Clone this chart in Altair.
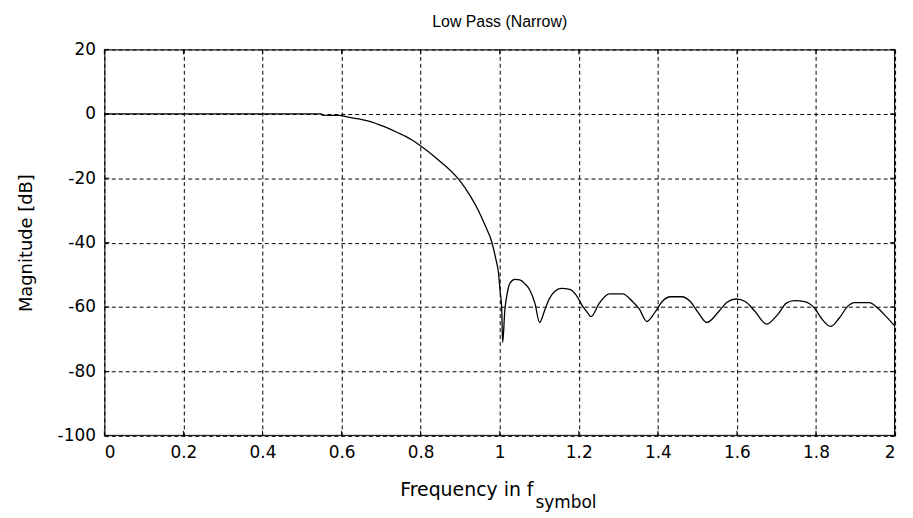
import altair as alt
import pandas as pd

# Frequency (in units of f_symbol) and magnitude (dB)
freq = [0, 0.549, 0.55, 0.595, 0.624, 0.666, 0.708, 0.741, 0.775, 0.796,
        0.842, 0.896, 0.925, 0.946, 0.963, 0.980, 0.990, 0.997, 1.001, 1.005,
        1.0075, 1.013, 1.019, 1.026, 1.038, 1.051, 1.064, 1.076, 1.089, 1.101,
        1.114, 1.126, 1.139, 1.156, 1.177, 1.193, 1.210, 1.223, 1.231, 1.252,
        1.277, 1.311, 1.336, 1.353, 1.372, 1.394, 1.411, 1.432, 1.461, 1.482,
        1.503, 1.524, 1.554, 1.575, 1.598, 1.621, 1.646, 1.675, 1.704, 1.725,
        1.746, 1.771, 1.796, 1.813, 1.837, 1.859, 1.880, 1.897, 1.935, 1.956,
        1.977, 2.0]
mag = [0, 0, -0.4, -0.5, -1.2, -2.2, -4.0, -5.8, -7.9, -9.6,
       -14.0, -20.3, -25.4, -30.0, -34.6, -39.8, -45.0, -49.5, -55.0, -60.3,
       -71.0, -60.9, -55.7, -52.6, -51.4, -51.6, -52.8, -54.7, -58.8, -64.8,
       -60.9, -57.3, -55.2, -54.2, -54.5, -56.2, -59.8, -61.9, -63.0, -58.8,
       -55.9, -55.9, -58.3, -60.6, -64.5, -61.4, -58.3, -56.8, -56.8, -58.3,
       -61.9, -64.8, -61.4, -58.5, -57.5, -58.3, -61.4, -65.3, -62.2, -58.8,
       -58.0, -58.3, -60.3, -63.4, -66.0, -63.4, -59.8, -58.6, -58.6, -60.3,
       -62.9, -66.0]

x_ticks = [0, 0.2, 0.4, 0.6, 0.8, 1, 1.2, 1.4, 1.6, 1.8, 2]
y_ticks = [-100, -80, -60, -40, -20, 0, 20]

title_text = "Low Pass (Narrow)"
x_title_main = "Frequency in f"
x_title_sub = "symbol"
y_title = "Magnitude [dB]"

W, H = 796, 389
FONT = "DejaVu Sans"

df = pd.DataFrame({"f": freq, "dB": mag})
xt = pd.DataFrame({"v": x_ticks})
yt = pd.DataFrame({"v": y_ticks})
one = pd.DataFrame({"k": [0]})

xscale = alt.Scale(domain=[0, 2], nice=False, zero=False)
yscale = alt.Scale(domain=[-100, 20], nice=False, zero=False)

xaxis = alt.Axis(values=x_ticks, labelExpr="toString(datum.value)", title=None, grid=True,
                 gridDash=[4, 3], gridColor="black", gridOpacity=1,
                 ticks=False, domain=False, labelPadding=9,
                 labelFontSize=17, labelColor="black", labelFont=FONT)
yaxis = alt.Axis(values=y_ticks, labelExpr="toString(datum.value)", title=y_title, grid=True,
                 gridDash=[4, 3], gridColor="black", gridOpacity=1,
                 ticks=False, domain=False, labelPadding=9,
                 labelFontSize=17, labelColor="black", labelFont=FONT,
                 titleFontSize=18, titleFont=FONT, titleColor="black",
                 titleFontWeight="normal", titlePadding=22)

line = alt.Chart(df).mark_line(color="black", strokeWidth=1.3, interpolate="monotone").encode(
    x=alt.X("f:Q", scale=xscale, axis=xaxis),
    y=alt.Y("dB:Q", scale=yscale, axis=yaxis),
)

tick_bottom = alt.Chart(xt).mark_rule(color="black").encode(
    x=alt.X("v:Q", scale=xscale, axis=xaxis), y=alt.value(H), y2=alt.value(H - 5))
tick_top = alt.Chart(xt).mark_rule(color="black").encode(
    x=alt.X("v:Q", scale=xscale, axis=xaxis), y=alt.value(0), y2=alt.value(5))
tick_left = alt.Chart(yt).mark_rule(color="black").encode(
    y=alt.Y("v:Q", scale=yscale, axis=yaxis), x=alt.value(0), x2=alt.value(5))
tick_right = alt.Chart(yt).mark_rule(color="black").encode(
    y=alt.Y("v:Q", scale=yscale, axis=yaxis), x=alt.value(W), x2=alt.value(W - 5))

frame = alt.Chart(one).mark_rect(fill=None, stroke="black", strokeWidth=1).encode(
    x=alt.value(0.5), x2=alt.value(W - 0.5), y=alt.value(0.5), y2=alt.value(H - 0.5))

xt_main = alt.Chart(pd.DataFrame({"t": [x_title_main]})).mark_text(
    align="right", baseline="alphabetic", fontSize=19, font=FONT, color="black"
).encode(text="t:N", x=alt.value(432), y=alt.value(450))
xt_sub = alt.Chart(pd.DataFrame({"t": [x_title_sub]})).mark_text(
    align="left", baseline="alphabetic", fontSize=17, font=FONT, color="black"
).encode(text="t:N", x=alt.value(434), y=alt.value(462))

chart = alt.layer(line, tick_bottom, tick_top, tick_left, tick_right, frame,
                  xt_main, xt_sub).properties(
    width=W, height=H,
    title=alt.TitleParams(title_text, fontSize=16, font="Liberation Sans", fontWeight="normal",
                          color="black", offset=11),
    autosize=alt.AutoSizeParams(type="none"),
    padding={"left": 97, "top": 40, "right": 10, "bottom": 80},
).configure_view(stroke=None).configure(background="white")

chart.save("out.html", embed_options={"renderer": "svg", "actions": False})
